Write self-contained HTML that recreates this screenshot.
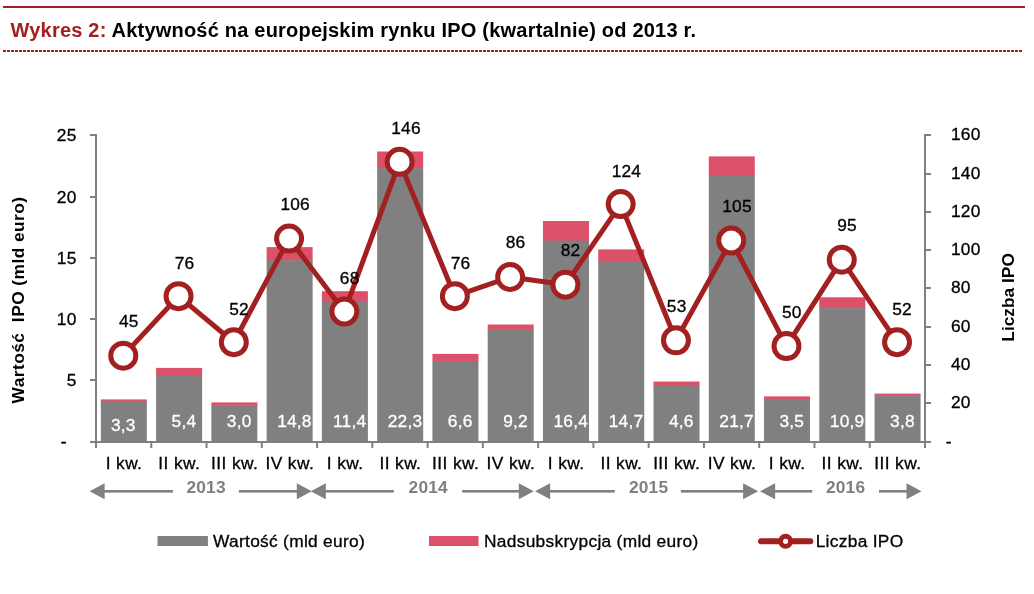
<!DOCTYPE html>
<html lang="pl">
<head>
<meta charset="utf-8">
<title>Wykres 2</title>
<style>
html,body{margin:0;padding:0;background:#fff;}
body{width:1034px;height:594px;position:relative;overflow:hidden;font-family:"Liberation Sans",Arial,sans-serif;}
.topline{position:absolute;left:3px;top:6px;width:1022px;height:2px;background:#A32020;}
.dash{position:absolute;left:3px;top:50px;width:1020px;height:2px;background:repeating-linear-gradient(90deg,#A32020 0,#A32020 3px,transparent 3px,transparent 4px);}
.title{position:absolute;left:10.5px;top:19px;letter-spacing:0.21px;font-size:20px;line-height:23px;font-weight:bold;color:#000;white-space:nowrap;}
.title span{color:#A32020;}
</style>
</head>
<body>
<div class="topline"></div>
<div class="title"><span>Wykres 2:</span> Aktywność na europejskim rynku IPO (kwartalnie) od 2013 r.</div>
<div class="dash"></div>
<svg width="1034" height="594" viewBox="0 0 1034 594" style="position:absolute;left:0;top:0" font-family="'Liberation Sans', Arial, sans-serif" font-size="17.33" letter-spacing="0.2">
<rect x="100.83" y="399.40" width="46" height="2.58" fill="#DC506A"/>
<rect x="100.83" y="401.48" width="46" height="40.52" fill="#808080"/>
<rect x="156.10" y="367.90" width="46" height="8.29" fill="#DC506A"/>
<rect x="156.10" y="375.69" width="46" height="66.31" fill="#808080"/>
<rect x="211.37" y="402.40" width="46" height="3.26" fill="#DC506A"/>
<rect x="211.37" y="405.16" width="46" height="36.84" fill="#808080"/>
<rect x="266.63" y="247.10" width="46" height="13.66" fill="#DC506A"/>
<rect x="266.63" y="260.26" width="46" height="181.74" fill="#808080"/>
<rect x="321.90" y="291.20" width="46" height="11.31" fill="#DC506A"/>
<rect x="321.90" y="302.01" width="46" height="139.99" fill="#808080"/>
<rect x="377.17" y="151.50" width="46" height="17.16" fill="#DC506A"/>
<rect x="377.17" y="168.16" width="46" height="273.84" fill="#808080"/>
<rect x="432.43" y="353.90" width="46" height="7.55" fill="#DC506A"/>
<rect x="432.43" y="360.95" width="46" height="81.05" fill="#808080"/>
<rect x="487.70" y="324.50" width="46" height="5.02" fill="#DC506A"/>
<rect x="487.70" y="329.02" width="46" height="112.98" fill="#808080"/>
<rect x="542.97" y="221.00" width="46" height="20.11" fill="#DC506A"/>
<rect x="542.97" y="240.61" width="46" height="201.39" fill="#808080"/>
<rect x="598.23" y="249.40" width="46" height="12.58" fill="#DC506A"/>
<rect x="598.23" y="261.48" width="46" height="180.52" fill="#808080"/>
<rect x="653.50" y="381.50" width="46" height="4.51" fill="#DC506A"/>
<rect x="653.50" y="385.51" width="46" height="56.49" fill="#808080"/>
<rect x="708.77" y="156.40" width="46" height="19.62" fill="#DC506A"/>
<rect x="708.77" y="175.52" width="46" height="266.48" fill="#808080"/>
<rect x="764.03" y="396.40" width="46" height="3.12" fill="#DC506A"/>
<rect x="764.03" y="399.02" width="46" height="42.98" fill="#808080"/>
<rect x="819.30" y="297.30" width="46" height="11.35" fill="#DC506A"/>
<rect x="819.30" y="308.15" width="46" height="133.85" fill="#808080"/>
<rect x="874.57" y="393.60" width="46" height="2.24" fill="#DC506A"/>
<rect x="874.57" y="395.34" width="46" height="46.66" fill="#808080"/>
<g stroke="#808080" stroke-width="2" fill="none">
<path d="M96.0 134.0V448.0"/>
<path d="M925.0 134.0V448.0"/>
<path d="M90.0 442.0H931.0"/>
<path d="M90.0 380.00H96.0"/>
<path d="M90.0 319.00H96.0"/>
<path d="M90.0 258.00H96.0"/>
<path d="M90.0 197.00H96.0"/>
<path d="M90.0 135.00H96.0"/>
<path d="M925.0 403.00H931.0"/>
<path d="M925.0 365.00H931.0"/>
<path d="M925.0 327.00H931.0"/>
<path d="M925.0 288.00H931.0"/>
<path d="M925.0 250.00H931.0"/>
<path d="M925.0 212.00H931.0"/>
<path d="M925.0 174.00H931.0"/>
<path d="M925.0 135.00H931.0"/>
<path d="M151.27 442.0V448.0"/>
<path d="M206.53 442.0V448.0"/>
<path d="M261.80 442.0V448.0"/>
<path d="M317.07 442.0V448.0"/>
<path d="M372.33 442.0V448.0"/>
<path d="M427.60 442.0V448.0"/>
<path d="M482.87 442.0V448.0"/>
<path d="M538.13 442.0V448.0"/>
<path d="M593.40 442.0V448.0"/>
<path d="M648.67 442.0V448.0"/>
<path d="M703.93 442.0V448.0"/>
<path d="M759.20 442.0V448.0"/>
<path d="M814.47 442.0V448.0"/>
<path d="M869.73 442.0V448.0"/>
</g>
<polyline points="123.28,355.66 178.55,296.18 233.82,342.23 289.08,238.61 344.35,311.52 399.62,161.86 454.88,296.18 510.15,276.99 565.42,284.66 620.68,204.07 675.95,340.31 731.22,240.53 786.48,346.06 841.75,259.72 897.02,342.23" fill="none" stroke="#A32020" stroke-width="5" stroke-linejoin="round"/>
<circle cx="123.28" cy="355.66" r="12.5" fill="#fff" stroke="#A32020" stroke-width="5"/>
<circle cx="178.55" cy="296.18" r="12.5" fill="#fff" stroke="#A32020" stroke-width="5"/>
<circle cx="233.82" cy="342.23" r="12.5" fill="#fff" stroke="#A32020" stroke-width="5"/>
<circle cx="289.08" cy="238.61" r="12.5" fill="#fff" stroke="#A32020" stroke-width="5"/>
<circle cx="344.35" cy="311.52" r="12.5" fill="#fff" stroke="#A32020" stroke-width="5"/>
<circle cx="399.62" cy="161.86" r="12.5" fill="#fff" stroke="#A32020" stroke-width="5"/>
<circle cx="454.88" cy="296.18" r="12.5" fill="#fff" stroke="#A32020" stroke-width="5"/>
<circle cx="510.15" cy="276.99" r="12.5" fill="#fff" stroke="#A32020" stroke-width="5"/>
<circle cx="565.42" cy="284.66" r="12.5" fill="#fff" stroke="#A32020" stroke-width="5"/>
<circle cx="620.68" cy="204.07" r="12.5" fill="#fff" stroke="#A32020" stroke-width="5"/>
<circle cx="675.95" cy="340.31" r="12.5" fill="#fff" stroke="#A32020" stroke-width="5"/>
<circle cx="731.22" cy="240.53" r="12.5" fill="#fff" stroke="#A32020" stroke-width="5"/>
<circle cx="786.48" cy="346.06" r="12.5" fill="#fff" stroke="#A32020" stroke-width="5"/>
<circle cx="841.75" cy="259.72" r="12.5" fill="#fff" stroke="#A32020" stroke-width="5"/>
<circle cx="897.02" cy="342.23" r="12.5" fill="#fff" stroke="#A32020" stroke-width="5"/>
<g text-anchor="middle" fill="#000" stroke="#000" stroke-width="0.3">
<text x="128.8" y="327.0">45</text>
<text x="184.5" y="268.5">76</text>
<text x="239.0" y="314.5">52</text>
<text x="295.2" y="210.3">106</text>
<text x="349.7" y="283.6">68</text>
<text x="406.0" y="133.6">146</text>
<text x="460.6" y="268.5">76</text>
<text x="515.5" y="248.2">86</text>
<text x="570.6" y="255.8">82</text>
<text x="626.4" y="176.7">124</text>
<text x="676.7" y="311.8">53</text>
<text x="737.0" y="211.8">105</text>
<text x="791.8" y="317.6">50</text>
<text x="847.0" y="231.2">95</text>
<text x="902.0" y="314.5">52</text>
</g>
<g text-anchor="middle" fill="#fff" stroke="#fff" stroke-width="0.3">
<text x="123.3" y="430.6">3,3</text>
<text x="183.9" y="426.8">5,4</text>
<text x="239.2" y="426.8">3,0</text>
<text x="294.4" y="426.8">14,8</text>
<text x="349.7" y="426.8">11,4</text>
<text x="405.0" y="426.8">22,3</text>
<text x="460.2" y="426.8">6,6</text>
<text x="515.5" y="426.8">9,2</text>
<text x="570.8" y="426.8">16,4</text>
<text x="626.0" y="426.8">14,7</text>
<text x="681.3" y="426.8">4,6</text>
<text x="736.6" y="426.8">21,7</text>
<text x="791.8" y="426.8">3,5</text>
<text x="847.1" y="426.8">10,9</text>
<text x="902.4" y="426.8">3,8</text>
</g>
<g text-anchor="end" fill="#000" stroke="#000" stroke-width="0.3">
<text x="76.5" y="385.9">5</text>
<text x="76.5" y="324.9">10</text>
<text x="76.5" y="263.9">15</text>
<text x="76.5" y="202.9">20</text>
<text x="76.5" y="140.9">25</text>
</g>
<text x="60.7" y="446.9" fill="#000" stroke="#000" stroke-width="0.5">-</text>
<g fill="#000" stroke="#000" stroke-width="0.3">
<text x="951" y="408.4">20</text>
<text x="951" y="370.4">40</text>
<text x="951" y="332.4">60</text>
<text x="951" y="293.4">80</text>
<text x="951" y="255.4">100</text>
<text x="951" y="217.4">120</text>
<text x="951" y="179.4">140</text>
<text x="951" y="140.4">160</text>
<text x="945.8" y="447">-</text>
</g>
<g text-anchor="middle" fill="#000" letter-spacing="0.4" stroke="#000" stroke-width="0.3">
<text x="124.0" y="468.6">I kw.</text>
<text x="179.3" y="468.6">II kw.</text>
<text x="234.6" y="468.6">III kw.</text>
<text x="289.8" y="468.6">IV kw.</text>
<text x="345.1" y="468.6">I kw.</text>
<text x="400.4" y="468.6">II kw.</text>
<text x="455.6" y="468.6">III kw.</text>
<text x="510.9" y="468.6">IV kw.</text>
<text x="566.2" y="468.6">I kw.</text>
<text x="621.4" y="468.6">II kw.</text>
<text x="676.7" y="468.6">III kw.</text>
<text x="732.0" y="468.6">IV kw.</text>
<text x="787.2" y="468.6">I kw.</text>
<text x="842.5" y="468.6">II kw.</text>
<text x="897.8" y="468.6">III kw.</text>
</g>
<text transform="translate(24,300) rotate(-90)" text-anchor="middle" font-weight="bold" letter-spacing="0.45" fill="#000" xml:space="preserve">Wartość  IPO (mld euro)</text>
<text transform="translate(1013.5,297.4) rotate(-90)" text-anchor="middle" font-weight="bold" letter-spacing="0" fill="#000">Liczba IPO</text>
<g fill="#808080" stroke="none">
<path d="M89.6 491.3L104.6 483.3V499.3Z"/>
<rect x="103.6" y="490.00" width="69.4" height="2.6"/>
<rect x="238.9" y="490.00" width="58.9" height="2.6"/>
<path d="M311.8 491.3L296.8 483.3V499.3Z"/>
<text x="206.1" y="493.2" text-anchor="middle" font-weight="bold">2013</text>
<path d="M310.8 491.3L325.8 483.3V499.3Z"/>
<rect x="324.8" y="490.00" width="69.0" height="2.6"/>
<rect x="462.2" y="490.00" width="57.6" height="2.6"/>
<path d="M533.8 491.3L518.8 483.3V499.3Z"/>
<text x="428.3" y="493.2" text-anchor="middle" font-weight="bold">2014</text>
<path d="M535.1 491.3L550.1 483.3V499.3Z"/>
<rect x="549.1" y="490.00" width="65.7" height="2.6"/>
<rect x="680.9" y="490.00" width="63.2" height="2.6"/>
<path d="M758.1 491.3L743.1 483.3V499.3Z"/>
<text x="648.6" y="493.2" text-anchor="middle" font-weight="bold">2015</text>
<path d="M760.1 491.3L775.1 483.3V499.3Z"/>
<rect x="774.1" y="490.00" width="38.1" height="2.6"/>
<rect x="879.0" y="490.00" width="28.5" height="2.6"/>
<path d="M921.5 491.3L906.5 483.3V499.3Z"/>
<text x="845.6" y="493.2" text-anchor="middle" font-weight="bold">2016</text>
</g>
<rect x="157.5" y="536" width="50.4" height="10" fill="#808080"/>
<rect x="429" y="536" width="49.5" height="10" fill="#DC506A"/>
<path d="M761 541.3H810.3" stroke="#A32020" stroke-width="6" stroke-linecap="round"/>
<circle cx="785.6" cy="541.3" r="5.05" fill="#fff" stroke="#A32020" stroke-width="4.9"/>
<g fill="#000" font-size="17.33" letter-spacing="0.3" stroke="#000" stroke-width="0.3">
<text x="213" y="547.3">Wartość (mld euro)</text>
<text x="484" y="547.3">Nadsubskrypcja (mld euro)</text>
<text x="815.7" y="547.2">Liczba IPO</text>
</g>
</svg>
</body>
</html>
